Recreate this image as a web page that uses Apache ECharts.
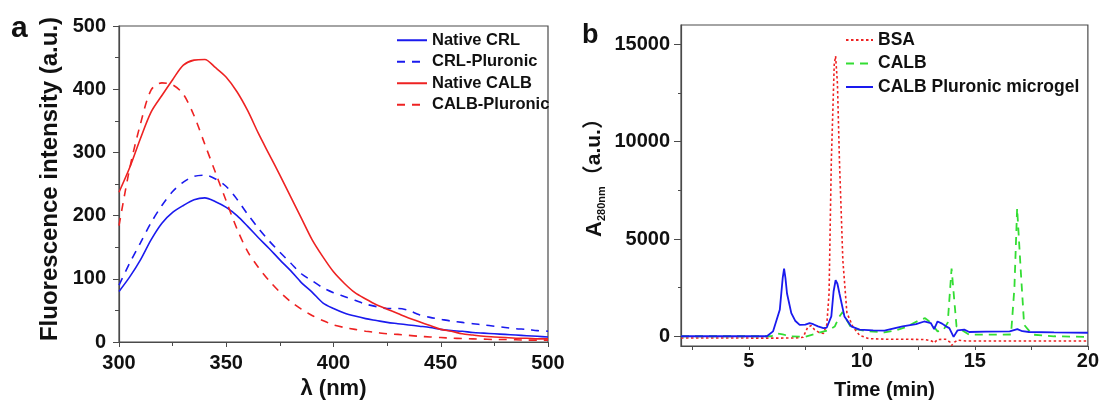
<!DOCTYPE html>
<html>
<head>
<meta charset="utf-8">
<script src="https://cdn.jsdelivr.net/npm/echarts@6/dist/echarts.min.js"></script>
<style>
  html, body { margin: 0; padding: 0; background: #fff; }
  #chart { width: 1102px; height: 405px; }
</style>
</head>
<body>
<div id="chart"></div>
<script>
// panel a: fluorescence spectra, read every 5 nm
const wavelengths = [300, 305, 310, 315, 320, 325, 330, 335, 340, 345, 350, 355, 360, 365, 370, 375, 380, 385, 390, 395,
  400, 405, 410, 415, 420, 425, 430, 435, 440, 445, 450, 455, 460, 465, 470, 475, 480, 485, 490, 495, 500];
const nativeCRL = [80, 103, 130, 162, 188, 205, 216, 225, 228, 222, 213, 200, 183, 165, 148, 130, 113, 94, 79, 62,
  53, 46, 41, 37, 34, 31, 29, 27, 25, 23, 20, 18, 17, 15, 14, 13, 12, 11, 10, 9, 8];
const crlPluronic = [90, 125, 157, 189, 216, 238, 253, 262, 264, 258, 246, 226, 202, 180, 160, 142, 125, 108, 97, 86,
  78, 72, 66, 60, 56, 53, 53, 50, 43, 39, 36, 33, 31, 29, 27, 25, 23, 21, 20, 18, 17];
const nativeCALB = [237, 276, 322, 364, 390, 415, 438, 446, 447, 434, 419, 396, 366, 330, 297, 264, 230, 196, 162, 135,
  111, 93, 78, 68, 59, 52, 45, 38, 32, 26, 20, 17, 13, 11, 9, 8, 7, 6, 6, 5, 5];
const calbPluronic = [184, 275, 345, 399, 410, 407, 392, 358, 313, 268, 223, 179, 143, 118, 97, 79, 64, 52, 42, 34,
  27, 23, 20, 17, 15, 13, 12, 10.5, 9, 8, 7, 6, 5.5, 5, 4.5, 4, 4, 3.5, 3, 3, 3];

// panel b: chromatograms (time in min, A280 in a.u.)
const bsaTime = [2, 4, 6, 7, 7.4, 7.6, 7.75, 7.9, 8.1, 8.3, 8.45, 8.55, 8.65, 8.78, 8.84, 8.92, 9.01, 9.16, 9.34, 9.6, 9.9,
  10.3, 11, 12, 12.8, 13.1, 13.2, 13.35, 13.7, 13.9, 13.97, 14.1, 14.25, 14.6, 16, 18, 20];
const bsaSignal = [-90, -90, -95, -90, -50, 450, 550, 350, 200, 150, 600, 2200, 9000, 14000, 14400, 13000, 9000, 3900, 1200, 500, 50,
  -120, -150, -150, -170, -250, -340, -170, -150, -300, -475, -300, -200, -240, -240, -240, -240];
const calbTime = [2, 6, 6.2, 6.5, 6.8, 7.5, 8, 8.5, 8.8, 9, 9.15, 9.3, 9.5, 9.8, 10.3, 11, 11.5, 12, 12.5, 12.8, 13, 13.35,
  13.6, 13.8, 13.97, 14.19, 14.4, 14.75, 15.5, 16.6, 16.75, 16.87, 17.03, 17.18, 17.54, 18.5, 20];
const calbSignal = [0, 0, 150, 100, 0, -30, 150, 300, 500, 1000, 1250, 900, 500, 350, 250, 200, 300, 500, 800, 930, 750, 250,
  300, 700, 3475, 500, 340, 85, 80, 90, 2500, 6580, 3390, 590, 85, 0, -30];
const microgelTime = [2, 5.8, 6.07, 6.37, 6.5, 6.56, 6.62, 6.69, 6.88, 7.05, 7.25, 7.5, 7.69, 7.85, 8.06, 8.3, 8.45, 8.65, 8.75,
  8.84, 8.92, 9.01, 9.23, 9.53, 9.9, 10.5, 11, 11.8, 12.4, 12.76, 13.05, 13.2, 13.35, 13.55, 13.72, 13.87, 14.06, 14.23,
  14.53, 14.75, 15.5, 16.54, 16.88, 17.1, 17.4, 18.5, 20];
const microgelSignal = [0, 0, 250, 1360, 3000, 3475, 3000, 2200, 1190, 800, 590, 600, 680, 620, 510, 420, 450, 1020, 2300,
  2880, 2700, 2200, 1020, 510, 340, 300, 290, 510, 620, 760, 680, 370, 760, 650, 510, 420, -30, 300,
  340, 220, 240, 250, 370, 260, 220, 200, 180];

const xLabelsB = [5, 10, 15, 20];
const xTicksB = [2.5, 5, 7.5, 10, 12.5, 15, 17.5, 20];
const yLabelsB = [0, 5000, 10000, 15000];
const yMinorB = [2500, 7500, 12500];

const FONT = '"Liberation Sans", Arial, "Noto Sans CJK SC", sans-serif';
const AXIS = '#4a4a4a';
const BLUE = '#1a1aee';
const RED = '#ee2222';
const GREEN = '#33dd33';

function pairs(xs, ys) {
  return xs.map((x, i) => [x, ys[i]]);
}

const chart = echarts.init(document.getElementById('chart'), null, { renderer: 'canvas' });

const labelStyle = { fontFamily: FONT, fontWeight: 'bold', color: '#111', fontSize: 20 };
// hide the circle ECharts puts on line legend icons
const noSymbol = { color: 'transparent', borderColor: 'transparent', borderWidth: 0 };

chart.setOption({
  animation: false,
  backgroundColor: '#fff',
  textStyle: { fontFamily: FONT },
  grid: [
    { left: 119, right: 554, top: 26, bottom: 61, show: true, borderColor: AXIS, borderWidth: 1.2 },
    { left: 681, right: 14, top: 25, bottom: 55, show: true, borderColor: AXIS, borderWidth: 1.2 }
  ],
  graphic: [
    { type: 'text', left: 11, top: 14, style: { text: 'a', font: 'bold 30px ' + FONT, fill: '#111' } },
    { type: 'text', left: 582, top: 22, style: { text: 'b', font: 'bold 27px ' + FONT, fill: '#111' } }
  ],
  legend: [
    {
      data: ['Native CRL', 'CRL-Pluronic', 'Native CALB', 'CALB-Pluronic'],
      orient: 'vertical', left: 396, top: 32, padding: 0, itemWidth: 30, itemHeight: 14, itemGap: 5,
      selectedMode: false, itemStyle: noSymbol,
      textStyle: { fontFamily: FONT, fontWeight: 'bold', fontSize: 16.5, color: '#111', lineHeight: 16 }
    },
    {
      data: ['BSA', 'CALB', 'CALB Pluronic microgel'],
      orient: 'vertical', left: 845, top: 31, padding: 0, itemWidth: 27, itemHeight: 14, itemGap: 5.5,
      selectedMode: false, itemStyle: noSymbol,
      textStyle: { fontFamily: FONT, fontWeight: 'bold', fontSize: 17.5, color: '#111', lineHeight: 18 }
    }
  ],
  xAxis: [
    {
      gridIndex: 0, type: 'value', min: 300, max: 500, interval: 50,
      name: 'λ (nm)', nameLocation: 'middle', nameGap: 36,
      nameTextStyle: { fontFamily: FONT, fontWeight: 'bold', fontSize: 22, color: '#111' },
      axisLine: { lineStyle: { color: AXIS, width: 1.2 } },
      axisTick: { length: 5, lineStyle: { color: AXIS } },
      minorTick: { show: true, splitNumber: 2, length: 4, lineStyle: { color: AXIS } },
      axisLabel: Object.assign({ margin: 11 }, labelStyle),
      splitLine: { show: false }
    },
    {
      gridIndex: 1, type: 'value', min: 2, max: 20,
      name: 'Time (min)', nameLocation: 'middle', nameGap: 34,
      nameTextStyle: { fontFamily: FONT, fontWeight: 'bold', fontSize: 20, color: '#111' },
      axisLine: { onZero: false, lineStyle: { color: AXIS, width: 1.2 } },
      axisTick: { customValues: xTicksB, length: 4, lineStyle: { color: AXIS } },
      axisLabel: Object.assign({ customValues: xLabelsB, margin: 5 }, labelStyle),
      splitLine: { show: false }
    }
  ],
  yAxis: [
    {
      gridIndex: 0, type: 'value', min: 0, max: 500, interval: 100,
      name: 'Fluorescence intensity (a.u.)', nameLocation: 'middle', nameGap: 57,
      nameTextStyle: { fontFamily: FONT, fontWeight: 'bold', fontSize: 24, color: '#111', padding: [0, 0, 0, 10] },
      axisLine: { show: true, lineStyle: { color: AXIS, width: 1.2 } },
      axisTick: { show: true, length: 6, lineStyle: { color: AXIS } },
      minorTick: { show: true, splitNumber: 2, length: 4, lineStyle: { color: AXIS } },
      axisLabel: Object.assign({ margin: 13 }, labelStyle),
      splitLine: { show: false }
    },
    {
      gridIndex: 1, type: 'value', min: -500, max: 16000, position: 'left',
      name: '{a|A}{s|280nm}{p|（a.u.）}', nameLocation: 'middle', nameGap: 74,
      nameTextStyle: {
        padding: [0, 0, 0, 26],
        rich: {
          a: { fontFamily: FONT, fontWeight: 'bold', fontSize: 22, color: '#111' },
          s: { fontFamily: FONT, fontWeight: 'bold', fontSize: 11, color: '#111', padding: [14, 0, 0, 0] },
          p: { fontFamily: FONT, fontWeight: 'bold', fontSize: 21, color: '#111' }
        }
      },
      axisLine: { show: true, onZero: false, lineStyle: { color: AXIS, width: 1.2 } },
      axisTick: { show: true, customValues: yLabelsB, length: 7, lineStyle: { color: AXIS } },
      axisLabel: Object.assign({ customValues: yLabelsB, margin: 11, formatter: v => String(v) }, labelStyle),
      splitLine: { show: false }
    },
    {
      gridIndex: 1, type: 'value', min: -500, max: 16000, position: 'left',
      axisLine: { show: false, onZero: false },
      axisTick: { show: true, customValues: yMinorB, length: 3, lineStyle: { color: AXIS } },
      axisLabel: { show: false },
      splitLine: { show: false }
    }
  ],
  series: [
    { name: 'Native CRL', type: 'line', xAxisIndex: 0, yAxisIndex: 0, symbol: 'none', smooth: 0.3,
      data: pairs(wavelengths, nativeCRL), lineStyle: { color: BLUE, width: 1.6 }, itemStyle: { color: BLUE } },
    { name: 'CRL-Pluronic', type: 'line', xAxisIndex: 0, yAxisIndex: 0, symbol: 'none', smooth: 0.3,
      data: pairs(wavelengths, crlPluronic), lineStyle: { color: BLUE, width: 1.6, type: [8, 7] }, itemStyle: { color: BLUE } },
    { name: 'Native CALB', type: 'line', xAxisIndex: 0, yAxisIndex: 0, symbol: 'none', smooth: 0.3,
      data: pairs(wavelengths, nativeCALB), lineStyle: { color: RED, width: 1.6 }, itemStyle: { color: RED } },
    { name: 'CALB-Pluronic', type: 'line', xAxisIndex: 0, yAxisIndex: 0, symbol: 'none', smooth: 0.3,
      data: pairs(wavelengths, calbPluronic), lineStyle: { color: RED, width: 1.6, type: [8, 7] }, itemStyle: { color: RED } },
    { name: 'BSA', type: 'line', xAxisIndex: 1, yAxisIndex: 1, symbol: 'none',
      data: pairs(bsaTime, bsaSignal), lineStyle: { color: RED, width: 1.6, type: [2.5, 2.5] }, itemStyle: { color: RED } },
    { name: 'CALB', type: 'line', xAxisIndex: 1, yAxisIndex: 1, symbol: 'none',
      data: pairs(calbTime, calbSignal), lineStyle: { color: GREEN, width: 1.8, type: [8, 6] }, itemStyle: { color: GREEN } },
    { name: 'CALB Pluronic microgel', type: 'line', xAxisIndex: 1, yAxisIndex: 1, symbol: 'none',
      data: pairs(microgelTime, microgelSignal), lineStyle: { color: BLUE, width: 1.8 }, itemStyle: { color: BLUE } }
  ]
});
</script>
</body>
</html>
